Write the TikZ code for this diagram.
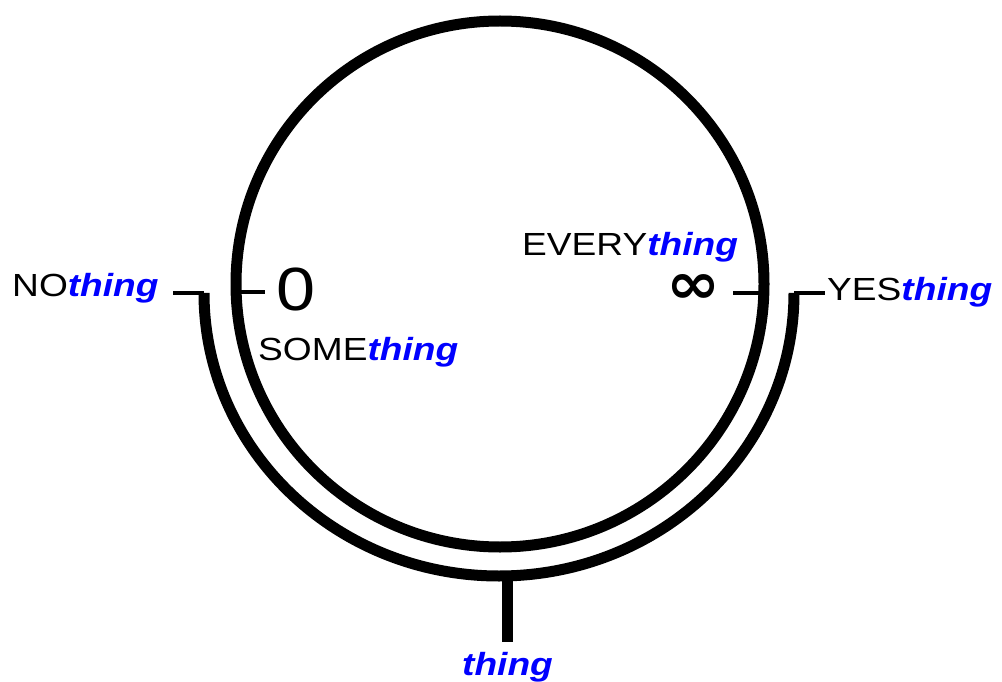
\documentclass[tikz,border=0pt]{standalone}
\usepackage{fontspec}
\setmainfont{Liberation Sans}
\newfontfamily\symfont{DejaVu Sans}
\newcommand{\thg}{\textcolor{blue}{\textbf{\textit{thing}}}}
\newcommand{\lbl}[1]{\scalebox{1.16}[1]{\fontsize{32}{32}\selectfont #1}}
\tikzset{
  thick line/.style={line width=11pt},
  tick line/.style={line width=3.5pt},
  label text/.style={inner sep=0pt, anchor=base west},
}
\begin{document}
\begin{tikzpicture}[x=1pt,y=-1pt]
\useasboundingbox (0,0) rectangle (1002,682);
% circle
\draw[thick line] (500,284) ellipse [x radius=264, y radius=263];
% outer half arc
\coordinate (aL) at (204,293);
\coordinate (aR) at (794,293);
\coordinate (aB) at (507,574);
\coordinate (sB) at (507,642);
\draw[thick line] (aL) arc [start angle=180, end angle=0, x radius=295, y radius=283];
\draw[thick line] (aB) -- (sB);
% tick ends
\coordinate (cL) at (236,292);
\coordinate (cR) at (764,293);
\coordinate (noT) at (173,293);
\coordinate (zeroT) at (265,292);
\coordinate (infT) at (733,293);
\coordinate (yesT) at (825,293);
% labels
\node[label text] (no) at (12,296) {\lbl{NO\thg}};
\node[label text] (some) at (258,360) {\lbl{SOME\thg}};
\node[label text] (every) at (522,255) {\lbl{EVERY\thg}};
\node[label text] (yes) at (827,300) {\lbl{YES\thg}};
\node[label text] (thing) at (462,675) {\lbl{\thg}};
\node[label text] (zero) at (276,310) {\scalebox{1.15}[1]{\fontsize{61}{61}\selectfont 0}};
\node[inner sep=0pt, anchor=south west] (inf) at (666,304) {\resizebox{54pt}{29pt}{\symfont\bfseries ∞}};
% ticks
\draw[tick line] (noT) -- (aL);
\draw[tick line] (cL) -- (zeroT);
\draw[tick line] (infT) -- (cR);
\draw[tick line] (aR) -- (yesT);
\end{tikzpicture}
\end{document}
